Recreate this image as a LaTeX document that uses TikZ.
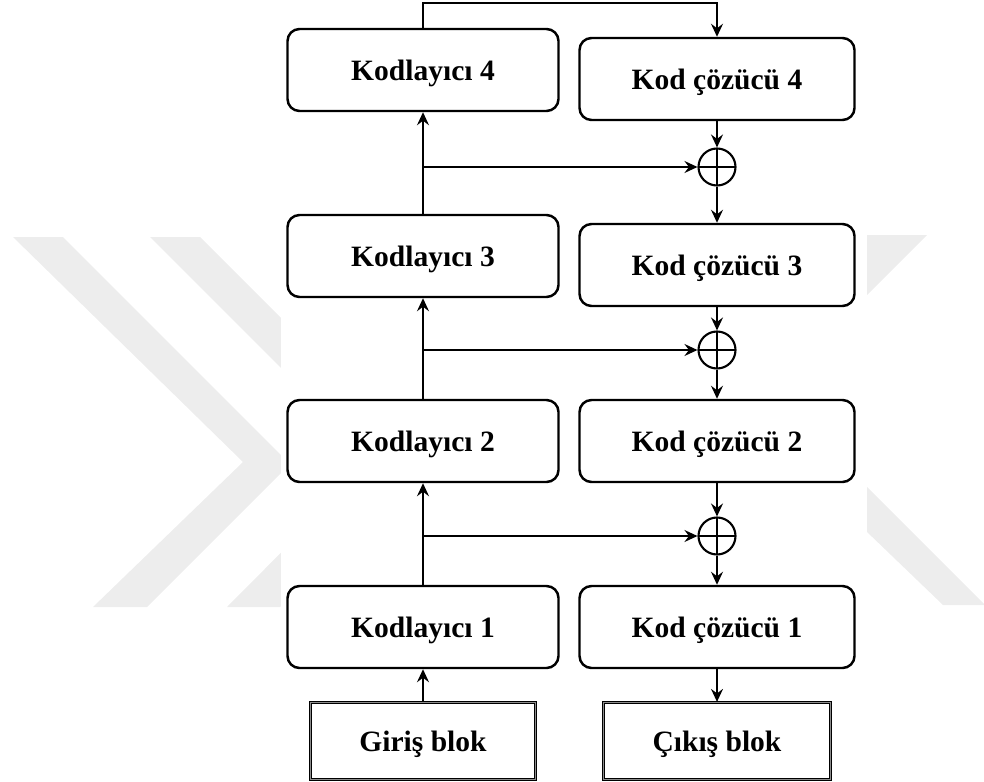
\documentclass[tikz,border=0pt]{standalone}
\usepackage{fontspec}
\setmainfont{Liberation Serif}
\usetikzlibrary{arrows.meta}

\tikzset{
  katman/.style={draw, line width=1.4pt, rounded corners=0.24cm,
    minimum height=1.64cm, inner sep=0pt, text depth=0pt,
    font=\fontsize{16.8}{20}\selectfont\bfseries},
  kodlayici/.style={katman, minimum width=5.42cm},
  cozucu/.style={katman, minimum width=5.5cm},
  blok/.style={draw, line width=0.7pt, double=black!45, double distance=0.5pt,
    minimum height=1.54cm, inner sep=0pt, text depth=0pt,
    font=\fontsize{16.8}{20}\selectfont\bfseries},
  topla/.style={draw, circle, line width=1.2pt, minimum size=0.74cm, inner sep=0pt,
    path picture={\draw[line width=1.2pt]
      (path picture bounding box.north) -- (path picture bounding box.south)
      (path picture bounding box.west) -- (path picture bounding box.east);}},
  ok/.style={-{Stealth[length=2.6mm,width=2.4mm,inset=0.9mm]}, line width=0.9pt},
  filigran/.style={fill=black!7}
}

\begin{document}
\begin{tikzpicture}[x=0.2mm, y=-0.2mm]
  \useasboundingbox (0,0) rectangle (984,782);

  \fill[filigran] (13,237) -- (63,237) -- (290,464) -- (147,607) -- (93,607) -- (243,462) -- cycle;
  \fill[filigran] (150,237) -- (200,237) -- (425,462) -- (280,607) -- (227,607) -- (373,460) -- cycle;
  \fill[filigran] (840,235) -- (927,235) -- (840,322) -- cycle;
  \fill[filigran] (840,460) -- (984,604) -- (984,605) -- (943,605) -- (840,506) -- cycle;
  \fill[white] (281,0) rectangle (867,782);

  \node[kodlayici] (k4) at (423,70) {Kodlayıcı 4};
  \node[kodlayici] (k3) at (423,256) {Kodlayıcı 3};
  \node[kodlayici] (k2) at (423,441) {Kodlayıcı 2};
  \node[kodlayici] (k1) at (423,627) {Kodlayıcı 1};
  \node[blok, minimum width=4.5cm] (giris) at (423,741) {Giriş blok};

  \node[cozucu] (c4) at (717,79) {Kod çözücü 4};
  \node[cozucu] (c3) at (717,265) {Kod çözücü 3};
  \node[cozucu] (c2) at (717,441) {Kod çözücü 2};
  \node[cozucu] (c1) at (717,627) {Kod çözücü 1};
  \node[blok, minimum width=4.54cm] (cikis) at (717,741) {Çıkış blok};

  \node[topla] (s3) at (717,167) {};
  \node[topla] (s2) at (717,350) {};
  \node[topla] (s1) at (717,536) {};

  \coordinate (ust) at (423,3);

  \foreach \a/\b in {giris/k1,k1/k2,k2/k3,k3/k4} {
    \draw[ok] (\a) -- (\b);
  }
  \foreach \a/\b in {c4/s3,s3/c3,c3/s2,s2/c2,c2/s1,s1/c1,c1/cikis} {
    \draw[ok] (\a) -- (\b);
  }
  \foreach \s in {s1,s2,s3} {
    \draw[ok] (k1.north |- \s) -- (\s);
  }
  \draw[ok] (k4.north) -- (ust) -| (c4.north);
\end{tikzpicture}
\end{document}
